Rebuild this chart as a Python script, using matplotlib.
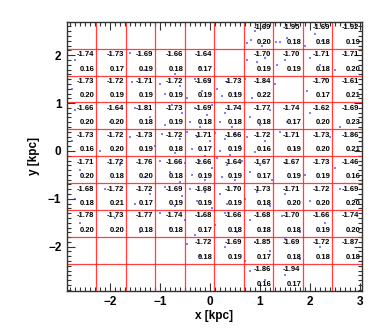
import numpy as np
import matplotlib
matplotlib.use('Agg')
from matplotlib import pyplot as plt
from matplotlib.ticker import MultipleLocator

plt.rcParams['font.family'] = ['Liberation Sans', 'DejaVu Sans']
plt.rcParams['font.weight'] = 'bold'

# bin layout (kpc)
x_range = (-2.86, 3.04)
y_range = (-2.92, 2.70)
n_bins = 10

# cell values, rows from top to bottom, columns left to right (None = empty cell)
top_vals = [
    [None, None, None, None, None, None, -1.69, -1.95, -1.69, -1.92],
    [-1.74, -1.73, -1.69, -1.66, -1.64, None, -1.70, -1.70, -1.71, -1.71],
    [-1.73, -1.72, -1.71, -1.72, -1.69, -1.73, -1.84, None, -1.70, -1.61],
    [-1.66, -1.64, -1.81, -1.73, -1.69, -1.74, -1.77, -1.74, -1.62, -1.69],
    [-1.73, -1.72, -1.73, -1.72, -1.71, -1.66, -1.72, -1.71, -1.73, -1.86],
    [-1.71, -1.72, -1.76, -1.66, -1.66, -1.64, -1.67, -1.67, -1.73, -1.46],
    [-1.68, -1.72, -1.72, -1.69, -1.68, -1.70, -1.73, -1.71, -1.72, -1.69],
    [-1.78, -1.73, -1.77, -1.74, -1.68, -1.66, -1.68, -1.70, -1.66, -1.74],
    [None, None, None, None, -1.72, -1.69, -1.85, -1.69, -1.72, -1.87],
    [None, None, None, None, None, None, -1.86, -1.94, None, None],
]
bot_vals = [
    [None, None, None, None, None, None, 0.20, 0.18, 0.18, 0.19],
    [0.16, 0.17, 0.19, 0.18, 0.17, None, 0.19, 0.19, 0.18, 0.20],
    [0.20, 0.19, 0.19, 0.19, 0.19, 0.19, 0.22, None, 0.17, 0.21],
    [0.20, 0.20, 0.18, 0.19, 0.18, 0.18, 0.18, 0.17, 0.20, 0.23],
    [0.16, 0.20, 0.19, 0.18, 0.17, 0.19, 0.16, 0.19, 0.20, 0.21],
    [0.20, 0.18, 0.20, 0.18, 0.19, 0.19, 0.17, 0.19, 0.19, 0.16],
    [0.18, 0.21, 0.17, 0.19, 0.19, 0.19, 0.18, 0.20, 0.20, 0.20],
    [0.20, 0.20, 0.18, 0.18, 0.17, 0.18, 0.18, 0.18, 0.19, 0.20],
    [None, None, None, None, 0.18, 0.19, 0.17, 0.18, 0.18, 0.18],
    [None, None, None, None, None, None, 0.16, 0.17, None, None],
]

# star positions (rough reading of the blue dots)
dots_x = [0.75, 0.82, 1.05, 1.32, 1.40, 1.55, 1.90, 2.10, 2.25, 0.90,
          -2.70, -1.60, -1.30, -0.70, -0.20, 0.75, 0.95, 1.10, 1.35, 1.50, 2.00, 2.20, 2.50,
          -2.75, -1.55, -1.00, -0.90, -0.60, -0.45, -0.30, -0.15, 0.00, 0.15, 0.25, 0.35, 0.50, 0.70, 0.85, 1.30, 1.95, 2.30,
          -2.70, -2.00, -1.50, -1.20, -0.90, -0.75, -0.55, -0.40, -0.30, -0.20, -0.05, 0.05, 0.20, 0.30, 0.45, 0.55, 0.80, 1.00, 1.20, 1.55, 2.00, 2.60,
          -2.75, -2.20, -1.60, -1.10, -0.95, -0.70, -0.60, -0.45, -0.35, -0.25, -0.10, 0.00, 0.10, 0.20, 0.30, 0.40, 0.50, 0.60, 0.75, 0.90, 1.10, 1.40, 1.70, 2.40,
          -2.60, -1.80, -1.30, -1.00, -0.80, -0.60, -0.50, -0.35, -0.20, -0.10, 0.05, 0.15, 0.25, 0.35, 0.50, 0.65, 0.80, 1.00, 1.25, 1.50, 1.90, 2.50,
          -2.70, -2.10, -1.50, -1.20, -0.90, -0.70, -0.55, -0.40, -0.25, -0.10, 0.05, 0.20, 0.35, 0.50, 0.70, 0.95, 1.20, 1.50, 2.00, 2.60,
          -2.60, -1.90, -1.40, -1.00, -0.80, -0.50, -0.30, -0.15, 0.10, 0.30, 0.55, 0.80, 1.10, 1.45, 1.80, 2.30,
          -0.45, -0.20, 0.30, 0.70, 0.90, 1.20, 1.50, 1.80, 2.20,
          0.80, 1.10, 1.50]
dots_y = [2.25, 2.31, 2.20, 2.28, 2.27, 2.35, 2.20, 2.45, 2.30, 2.50,
          1.90, 2.05, 1.70, 1.60, 1.75, 1.90, 1.85, 1.95, 1.80, 1.90, 1.95, 1.80, 1.70,
          1.30, 1.45, 1.40, 1.20, 1.35, 1.10, 1.50, 1.25, 1.45, 1.30, 1.15, 1.45, 1.20, 1.50, 1.10, 1.40, 1.25, 1.50,
          0.85, 0.60, 0.90, 0.70, 0.55, 0.95, 0.80, 0.60, 0.90, 0.50, 0.75, 0.95, 0.60, 0.80, 0.50, 0.90, 0.70, 0.55, 0.85, 0.60, 0.80, 0.50,
          0.20, 0.00, 0.30, 0.10, 0.35, -0.05, 0.25, 0.40, 0.05, 0.30, -0.10, 0.20, 0.38, 0.00, 0.25, -0.08, 0.35, 0.10, 0.30, -0.02, 0.20, 0.40, 0.05, 0.30,
          -0.40, -0.30, -0.55, -0.20, -0.45, -0.65, -0.25, -0.50, -0.20, -0.60, -0.35, -0.15, -0.55, -0.30, -0.60, -0.20, -0.45, -0.30, -0.60, -0.25, -0.50, -0.35,
          -1.00, -0.80, -1.10, -0.90, -0.75, -1.15, -0.95, -0.80, -1.05, -0.85, -1.20, -0.90, -1.10, -0.75, -1.00, -0.85, -1.15, -0.90, -1.05, -0.80,
          -1.50, -1.40, -1.70, -1.30, -1.60, -1.45, -1.75, -1.35, -1.55, -1.30, -1.70, -1.45, -1.60, -1.35, -1.70, -1.50,
          -1.95, -2.20, -2.00, -2.30, -1.90, -2.10, -1.85, -2.25, -2.00,
          -2.50, -2.70, -2.60]

fig = plt.figure(figsize=(3.82, 3.34), dpi=100)
ax = fig.add_axes([0.1754, 0.1296, 0.7715, 0.8054])

ax.scatter(dots_x, dots_y, s=1.0, c='#2a2aff', marker='s', linewidths=0, alpha=0.6, zorder=1)

x_edges = np.linspace(x_range[0], x_range[1], n_bins + 1)
y_edges = np.linspace(y_range[1], y_range[0], n_bins + 1)
for xe in x_edges[1:-1]:
    ax.axvline(xe, color='#ff2020', lw=0.9, alpha=0.85, zorder=2)
for ye in y_edges[1:-1]:
    ax.axhline(ye, color='#ff2020', lw=0.9, alpha=0.85, zorder=2)

dx = x_edges[1] - x_edges[0]
dy = y_edges[0] - y_edges[1]
for r in range(n_bins):
    for c in range(n_bins):
        if top_vals[r][c] is None:
            continue
        xr = x_edges[c + 1]
        yt = y_edges[r]
        ax.text(xr - 0.045, yt - 0.22 * dy, '%.2f' % top_vals[r][c],
                ha='right', va='center', fontsize=5.5, fontweight='bold', zorder=3)
        ax.text(xr - 0.03, yt - 0.76 * dy, '%.2f' % bot_vals[r][c],
                ha='right', va='center', fontsize=5.5, fontweight='bold', zorder=3)

ax.set_xlim(x_range)
ax.set_ylim(y_range)
ax.xaxis.set_major_locator(MultipleLocator(1))
ax.yaxis.set_major_locator(MultipleLocator(1))
ax.xaxis.set_minor_locator(MultipleLocator(0.1))
ax.yaxis.set_minor_locator(MultipleLocator(0.1))
ax.tick_params(which='both', direction='in', top=True, right=True, color='#333333', width=0.8)
ax.tick_params(which='major', length=6, labelsize=8.5, pad=4)
ax.tick_params(which='minor', length=3)
for lab in ax.get_xticklabels() + ax.get_yticklabels():
    lab.set_fontweight('bold')
for sp in ax.spines.values():
    sp.set_linewidth(1.0)
    sp.set_color('#333333')

ax.set_xlabel('x [kpc]', fontsize=8.5, fontweight='bold', labelpad=1)
ax.set_ylabel('y [kpc]', fontsize=8.5, fontweight='bold', labelpad=6)

fig.savefig('out.png', dpi=100)
